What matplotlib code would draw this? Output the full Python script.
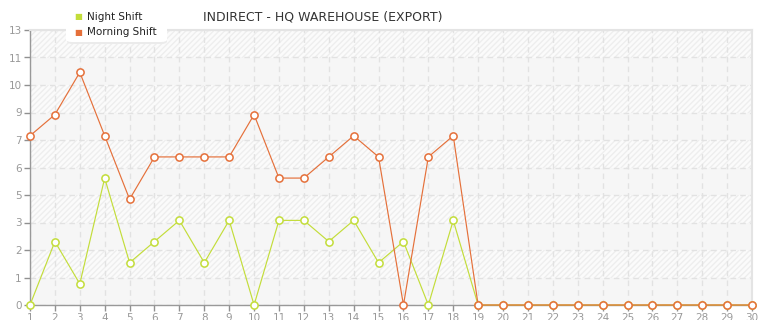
import matplotlib
matplotlib.use("Agg")
import matplotlib.pyplot as plt
import numpy as np
from matplotlib.patches import FancyBboxPatch

# data
days = list(range(1, 31))
night_shift = [0, 3, 1, 6, 2, 3, 4, 2, 4, 0, 4, 4, 3, 4, 2, 3, 0, 4, 0,
               0, 0, 0, 0, 0, 0, 0, 0, 0, 0, 0]
morning_shift = [8, 9, 11, 8, 5, 7, 7, 7, 7, 9, 6, 6, 7, 8, 7, 0, 7, 8, 0,
                 0, 0, 0, 0, 0, 0, 0, 0, 0, 0, 0]
y_max = 13
n_bands = 10

night_col = '#c3dd3a'
morning_col = '#e5703a'

fig = plt.figure(figsize=(7.65, 3.2), dpi=100)
ax = fig.add_axes([30 / 765, 15 / 320, 722 / 765, 275 / 320])

ax.set_xlim(days[0], days[-1])
ax.set_ylim(0, y_max)

# alternating plain / hatched bands
yt = np.linspace(0, y_max, n_bands + 1)
ax.set_facecolor('#f6f6f6')
for i in range(n_bands):
    if i % 2 == 1:
        ax.axhspan(yt[i], yt[i + 1], facecolor='#fbfbfb', edgecolor='#eeeeee',
                   hatch='//////', linewidth=0, zorder=0)

ax.grid(True, color='#e2e2e2', linestyle=(0, (4, 3)), linewidth=1)
ax.set_axisbelow(True)

ax.plot(days, night_shift, color=night_col, lw=0.85, marker='o', ms=5.2,
        mfc='white', mec=night_col, mew=1.1, label='Night Shift', zorder=3,
        clip_on=False)
ax.plot(days, morning_shift, color=morning_col, lw=0.85, marker='o', ms=5.2,
        mfc='white', mec=morning_col, mew=1.1, label='Morning Shift', zorder=4,
        clip_on=False)

ax.set_yticks(yt)
ax.set_yticklabels([str(int(np.floor(v + 1e-9))) for v in yt])
ax.set_xticks(days)
ax.set_xticklabels([str(d) for d in days])
ax.tick_params(colors='#909090', labelcolor='#999999', labelsize=7.5,
               length=4, width=1, pad=2)

for s in ['left', 'bottom']:
    ax.spines[s].set_color('#999999')
    ax.spines[s].set_linewidth(1)
for s in ['top', 'right']:
    ax.spines[s].set_color('#e4e4e4')
    ax.spines[s].set_linewidth(1.5)

fig.text(323 / 765, 1 - 17 / 320, 'INDIRECT - HQ WAREHOUSE (EXPORT)',
         ha='center', va='center', fontsize=9, color='#333333')

# legend box
shadow = FancyBboxPatch((67 / 765, 1 - 44 / 320), 100 / 765, 31 / 320,
                        boxstyle='round,pad=0,rounding_size=0.008',
                        transform=fig.transFigure, facecolor='#ebebeb',
                        edgecolor='none', zorder=5)
box = FancyBboxPatch((66 / 765, 1 - 42 / 320), 101 / 765, 31 / 320,
                     boxstyle='round,pad=0,rounding_size=0.008',
                     transform=fig.transFigure, facecolor='white',
                     edgecolor='none', zorder=6)
fig.patches.extend([shadow, box])
for yy, lab, col in [(17, 'Night Shift', night_col), (32, 'Morning Shift', morning_col)]:
    fig.text(78 / 765, 1 - yy / 320, '\u25A0', ha='center', va='center',
             fontsize=6, color=col, zorder=7)
    fig.text(87 / 765, 1 - yy / 320, lab, ha='left', va='center',
             fontsize=7.5, color='#222222', zorder=7)

fig.savefig('out.png', dpi=100, facecolor='white')
